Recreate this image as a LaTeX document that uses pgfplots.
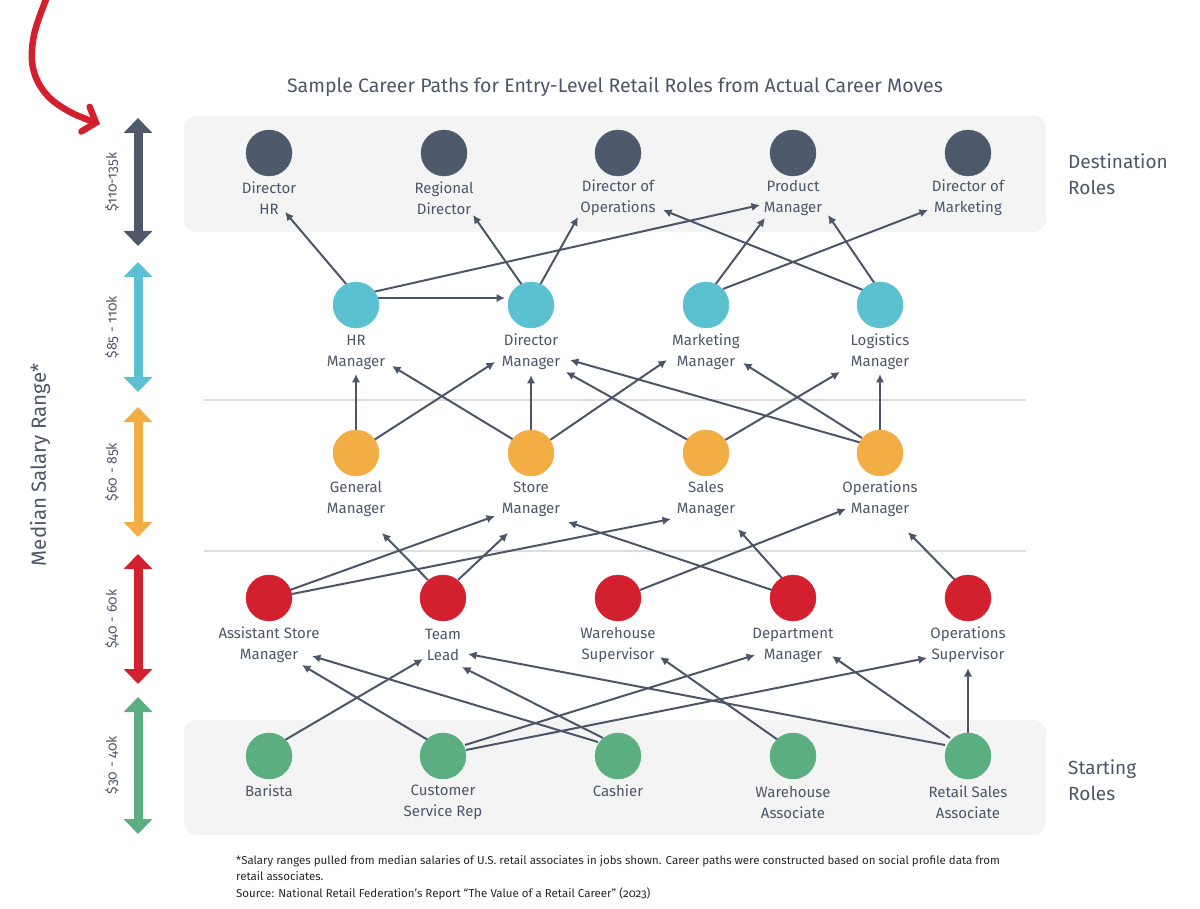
\documentclass[border=0pt]{standalone}
\usepackage{pgfplots}
\pgfplotsset{compat=1.18}
\usepackage{pgfplotstable}
\usepackage{fontspec}
\setmainfont{Fira Sans}[Numbers=OldStyle]
\usetikzlibrary{arrows.meta}
\definecolor{slate}{HTML}{4E5A6B}
\definecolor{txt}{HTML}{4D5668}
\definecolor{cyanc}{HTML}{5BC0CF}
\definecolor{orangec}{HTML}{F2AE45}
\definecolor{redc}{HTML}{D3202F}
\definecolor{greenc}{HTML}{5AAE7F}
\definecolor{boxg}{HTML}{F4F4F4}
\definecolor{sep}{HTML}{DEDEDE}

\pgfplotstableread{
x y
269 153
444 153
618 153
793 153
968 153
}\rowA
\pgfplotstableread{
x y
356 305
531 305
706 305
880 305
}\rowB
\pgfplotstableread{
x y
356 453
531 453
706 453
880 453
}\rowC
\pgfplotstableread{
x y
269 598
443 598
618 598
793 598
968 598
}\rowD
\pgfplotstableread{
x y
269 756
443 756
618 756
793 756
968 756
}\rowE

\tikzset{
  edge/.style={line width=2pt, color=txt, -{Latex[length=8.5pt,width=8.5pt]}},
  lab/.style={align=center, text=txt, font=\fontsize{15}{21}\selectfont, inner sep=0pt},
  rng/.style={rotate=90, text=txt, font=\fontsize{14}{16}\selectfont, inner sep=0pt},
  dbl/.style={line width=9pt, {Triangle[length=15pt,width=28pt]}-{Triangle[length=15pt,width=28pt]}},
}

\begin{document}
\begin{tikzpicture}
\begin{axis}[
  width=1200pt, height=909pt, scale only axis,
  xmin=0, xmax=1200, ymin=0, ymax=909, y dir=reverse,
  hide axis, clip=false,
]
\coordinate (tl) at (axis cs:0,0);
\coordinate (br) at (axis cs:1200,909);
% background boxes
\addplot[fill=boxg, draw=none, rounded corners=12pt] coordinates {(184,116) (1046,116) (1046,232) (184,232)} -- cycle;
\addplot[fill=boxg, draw=none, rounded corners=12pt] coordinates {(184,720) (1046,720) (1046,835) (184,835)} -- cycle;
% separators
\addplot[sep, line width=1.5pt] coordinates {(204,400) (1026,400)};
\addplot[sep, line width=1.5pt] coordinates {(204,551) (1026,551)};

% left range arrows
\addplot[dbl, slate] coordinates {(138,118) (138,246)};
\addplot[dbl, cyanc] coordinates {(138,262) (138,392)};
\addplot[dbl, orangec] coordinates {(138,407) (138,537)};
\addplot[dbl, redc] coordinates {(138,554) (138,684)};
\addplot[dbl, greenc] coordinates {(138,697) (138,834)};

% red curved arrow
\addplot[redc, line width=6.5pt, smooth, tension=0.6, line cap=round, -{Straight Barb[length=11pt,width=26pt,line cap=round]}] coordinates {(47,-3) (34,35) (33,68) (46,94) (70,112) (100,124)};

% edges row B -> row A
\addplot[edge] coordinates {(347,285) (285,212)};
\addplot[edge] coordinates {(373,292) (760,205)};
\addplot[edge] coordinates {(378,298) (505,298)};
\addplot[edge] coordinates {(522,285) (473,215)};
\addplot[edge] coordinates {(540,285) (578,217)};
\addplot[edge] coordinates {(715,285) (765,218)};
\addplot[edge] coordinates {(723,289) (928,210)};
\addplot[edge] coordinates {(863,290) (663,210)};
\addplot[edge] coordinates {(875,284) (828,215)};
% row C -> row B
\addplot[edge] coordinates {(356,430) (356,374)};
\addplot[edge] coordinates {(374,440) (495,362)};
\addplot[edge] coordinates {(514,440) (392,366)};
\addplot[edge] coordinates {(531,430) (531,375)};
\addplot[edge] coordinates {(550,440) (667,360)};
\addplot[edge] coordinates {(688,440) (566,372)};
\addplot[edge] coordinates {(862,443) (570,360)};
\addplot[edge] coordinates {(862,438) (743,363)};
\addplot[edge] coordinates {(725,440) (840,372)};
\addplot[edge] coordinates {(880,430) (880,374)};
% row D -> row C
\addplot[edge] coordinates {(290,590) (495,516)};
\addplot[edge] coordinates {(292,594) (671,519)};
\addplot[edge] coordinates {(428,580) (382,533)};
\addplot[edge] coordinates {(458,580) (508,533)};
\addplot[edge] coordinates {(640,590) (846,509)};
\addplot[edge] coordinates {(772,590) (568,522)};
\addplot[edge] coordinates {(782,578) (738,529)};
\addplot[edge] coordinates {(955,580) (908,532)};
% row E -> row D
\addplot[edge] coordinates {(285,740) (423,659)};
\addplot[edge] coordinates {(428,740) (302,665)};
\addplot[edge] coordinates {(465,745) (755,655)};
\addplot[edge] coordinates {(466,750) (927,658)};
\addplot[edge] coordinates {(598,742) (312,656)};
\addplot[edge] coordinates {(603,738) (462,667)};
\addplot[edge] coordinates {(778,740) (660,657)};
\addplot[edge] coordinates {(945,745) (468,654)};
\addplot[edge] coordinates {(950,738) (832,656)};
\addplot[edge] coordinates {(968,733) (968,668)};

% circles
\addplot[only marks, mark=*, mark size=23pt, color=slate] table {\rowA};
\addplot[only marks, mark=*, mark size=23pt, color=cyanc] table {\rowB};
\addplot[only marks, mark=*, mark size=23pt, color=orangec] table {\rowC};
\addplot[only marks, mark=*, mark size=23pt, color=redc] table {\rowD};
\addplot[only marks, mark=*, mark size=23pt, color=greenc] table {\rowE};

% labels
\node[lab] at (axis cs:269,198) {Director\\HR};
\node[lab] at (axis cs:444,198) {Regional\\Director};
\node[lab] at (axis cs:618,198) {Director of\\Operations};
\node[lab] at (axis cs:793,198) {Product\\Manager};
\node[lab] at (axis cs:968,198) {Director of\\Marketing};

\node[lab] at (axis cs:356,352) {HR\\Manager};
\node[lab] at (axis cs:531,352) {Director\\Manager};
\node[lab] at (axis cs:706,352) {Marketing\\Manager};
\node[lab] at (axis cs:880,352) {Logistics\\Manager};

\node[lab] at (axis cs:356,499) {General\\Manager};
\node[lab] at (axis cs:531,499) {Store\\Manager};
\node[lab] at (axis cs:706,499) {Sales\\Manager};
\node[lab] at (axis cs:880,499) {Operations\\Manager};

\node[lab] at (axis cs:269,645) {Assistant Store\\Manager};
\node[lab] at (axis cs:443,645) {Team\\Lead};
\node[lab] at (axis cs:618,645) {Warehouse\\Supervisor};
\node[lab] at (axis cs:793,645) {Department\\Manager};
\node[lab] at (axis cs:968,645) {Operations\\Supervisor};

\node[lab] at (axis cs:269,791) {Barista};
\node[lab] at (axis cs:443,802) {Customer\\Service Rep};
\node[lab] at (axis cs:618,791) {Cashier};
\node[lab] at (axis cs:793,802) {Warehouse\\Associate};
\node[lab] at (axis cs:968,802) {Retail Sales\\Associate};

% range labels
\node[rng] at (axis cs:112,182) {\$110-135k};
\node[rng] at (axis cs:112,327) {\$85 - 110k};
\node[rng] at (axis cs:112,472) {\$60 - 85k};
\node[rng] at (axis cs:112,619) {\$40 - 60k};
\node[rng] at (axis cs:112,765) {\$30 - 40k};
\node[rotate=90, text=txt, font=\fontsize{20.5}{24}\selectfont, inner sep=0pt] at (axis cs:40,465) {Median Salary Range*};

% title and side labels
\node[text=txt, font=\fontsize{19.5}{24}\selectfont, inner sep=0pt] at (axis cs:615,87) {Sample Career Paths for Entry-Level Retail Roles from Actual Career Moves};
\node[text=txt, font=\fontsize{19}{26}\selectfont, align=left, anchor=west, inner sep=0pt] at (axis cs:1068,174) {Destination\\Roles};
\node[text=txt, font=\fontsize{19}{26}\selectfont, align=left, anchor=west, inner sep=0pt] at (axis cs:1068,780) {Starting\\Roles};

% footnote
\node[text=black!85, font=\fontsize{11.5}{16.5}\selectfont, align=left, anchor=north west, inner sep=0pt] at (axis cs:236,855) {*Salary ranges pulled from median salaries of U.S. retail associates in jobs shown. Career paths were constructed based on social profile data from\\retail associates.\\Source: National Retail Federation's Report “The Value of a Retail Career” (2023)};
\end{axis}
\pgfresetboundingbox
\path (tl) rectangle (br);
\end{tikzpicture}
\end{document}
